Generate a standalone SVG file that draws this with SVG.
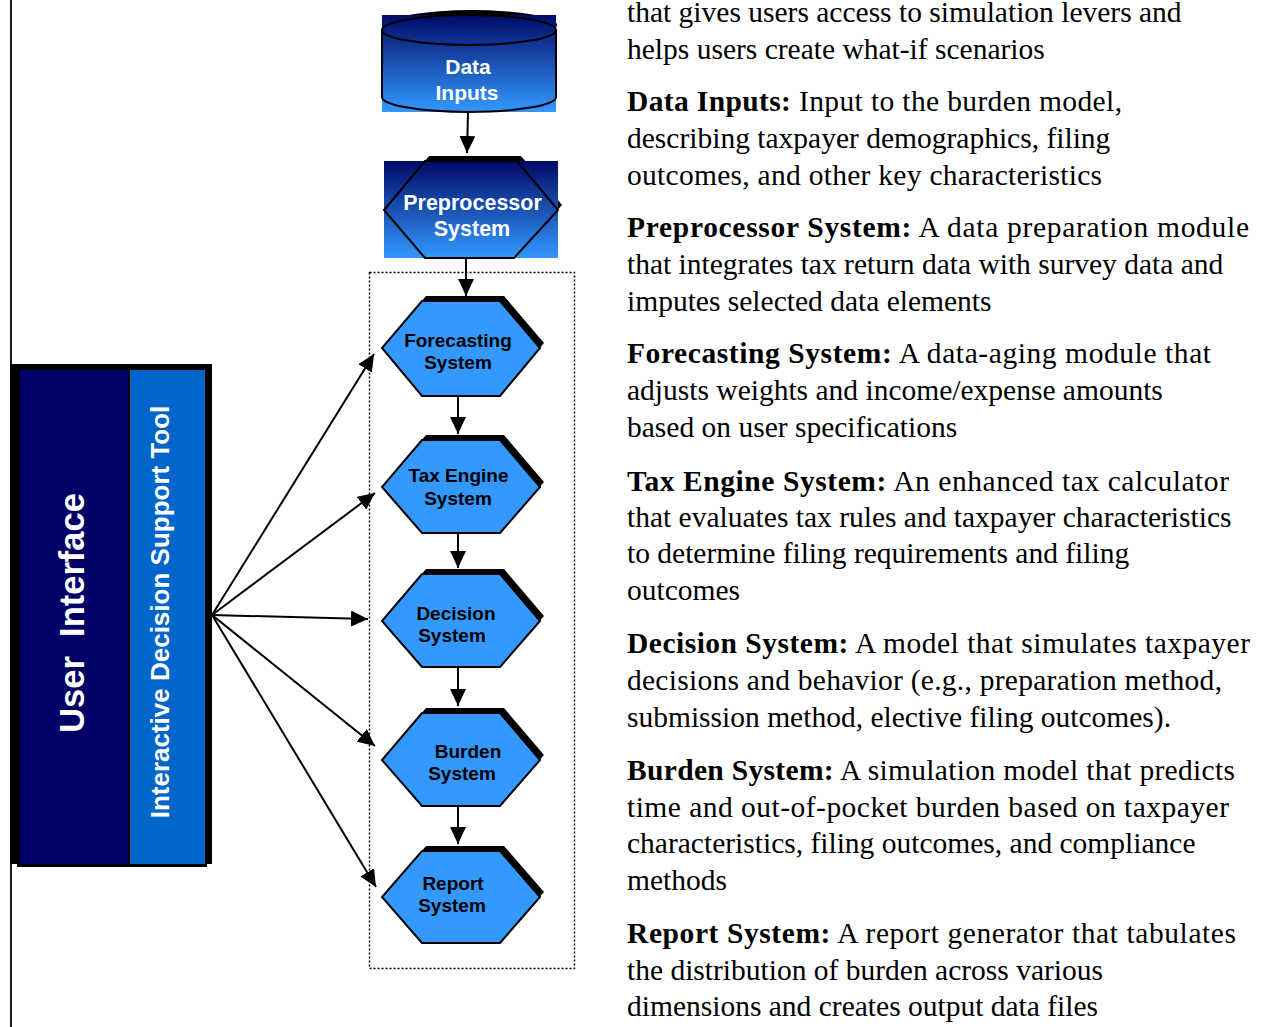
<svg xmlns="http://www.w3.org/2000/svg" width="1261" height="1027" viewBox="0 0 1261 1027">
<style>
.conn{stroke:#000;stroke-width:2;fill:none;marker-end:url(#ah)}
.hex{fill:#3399FF;stroke:#000;stroke-width:2}
.sh{fill:#000}
.lbl{font-family:"Liberation Sans",Arial,sans-serif;font-weight:bold;font-size:19px;fill:#000;text-anchor:middle}
.wlbl{font-family:"Liberation Sans",Arial,sans-serif;font-weight:bold;fill:#fff;text-anchor:middle}
.body{font-family:"Liberation Serif","Times New Roman",serif;font-size:29.5px;fill:#000}
.b{font-weight:bold}
</style>
<defs>
<marker id="ah" markerUnits="userSpaceOnUse" markerWidth="17" markerHeight="16" refX="17" refY="8" orient="auto">
<path d="M0,0 L17,8 L0,16 Z" fill="#000"/>
</marker>
<linearGradient id="gr" x1="0" y1="0" x2="0" y2="1">
<stop offset="0" stop-color="#000A66"/>
<stop offset="1" stop-color="#3399FF"/>
</linearGradient>
</defs>
<rect width="1261" height="1027" fill="#fff"/>
<line x1="11" y1="0" x2="11" y2="1027" stroke="#000" stroke-width="1.8"/>

<g id="user-interface">
<rect x="10" y="364" width="202" height="500" fill="#000"/>
<rect x="17" y="862" width="190" height="5" fill="#000"/>
<rect x="20" y="370" width="108" height="494" fill="#000066"/>
<rect x="130" y="370" width="75" height="494" fill="#0066CC"/>
<text class="wlbl" font-size="34.5" xml:space="preserve" transform="translate(84,613) rotate(-90)">User  Interface</text>
<text class="wlbl" font-size="26" transform="translate(169,612) rotate(-90)">Interactive Decision Support Tool</text>
</g>

<g id="data-inputs">
<ellipse cx="472" cy="25" rx="85" ry="15" fill="#000"/>
<rect x="382" y="15" width="174" height="97" fill="url(#gr)"/>
<path d="M382,30 A87,15 0 0 1 556,30 A87,15 0 0 1 382,30 Z M382,30 L382,97 A87,15 0 0 0 556,97 L556,30" fill="none" stroke="#000" stroke-width="2"/>
<text class="wlbl" font-size="21" x="468" y="74">Data</text>
<text class="wlbl" font-size="21" x="467" y="100">Inputs</text>
</g>

<g id="preprocessor">
<polygon class="sh" points="429,156 521,156 562,205 518,253 429,253 388,205"/>
<rect x="384" y="161" width="174" height="97" fill="url(#gr)"/>
<polygon points="425,161 517,161 558,210 514,258 425,258 384,210" fill="none" stroke="#000" stroke-width="2"/>
<text class="wlbl" font-size="21.5" x="472.5" y="210">Preprocessor</text>
<text class="wlbl" font-size="21.5" x="472" y="236">System</text>
</g>

<rect id="system-group" x="369.5" y="272.5" width="205" height="696" fill="none" stroke="#000" stroke-width="1.5" stroke-dasharray="2,2"/>

<g id="forecasting">
<polygon class="sh" points="426,296 504,296 544,343 504,390 426,390 386,343"/>
<polygon class="hex" points="422,301 500,301 540,348 500,396 422,396 382,348"/>
<text class="lbl" x="458" y="347">Forecasting</text>
<text class="lbl" x="458" y="369">System</text>
</g>

<g id="tax-engine">
<polygon class="sh" points="426,435 504,435 544,482 504,528 426,528 386,482"/>
<polygon class="hex" points="422,440 500,440 540,487 500,533 422,533 382,487"/>
<text class="lbl" x="458.5" y="482">Tax Engine</text>
<text class="lbl" x="458" y="505">System</text>
</g>

<g id="decision">
<polygon class="sh" points="426,569 504,569 544,616 504,662 426,662 386,616"/>
<polygon class="hex" points="422,574 500,574 540,621 500,667 422,667 382,621"/>
<text class="lbl" x="456" y="620">Decision</text>
<text class="lbl" x="452" y="642">System</text>
</g>

<g id="burden">
<polygon class="sh" points="426,708 504,708 544,755 504,801 426,801 386,755"/>
<polygon class="hex" points="422,713 500,713 540,760 500,806 422,806 382,760"/>
<text class="lbl" x="468" y="758">Burden</text>
<text class="lbl" x="462" y="780">System</text>
</g>

<g id="report">
<polygon class="sh" points="426,846 504,846 544,892 504,938 426,938 386,892"/>
<polygon class="hex" points="422,851 500,851 540,897 500,943 422,943 382,897"/>
<text class="lbl" x="453" y="890">Report</text>
<text class="lbl" x="452" y="912">System</text>
</g>

<g id="connectors">
<line class="conn" x1="468" y1="112" x2="467" y2="153"/>
<line class="conn" x1="466" y1="258" x2="466" y2="296"/>
<line class="conn" x1="458" y1="396" x2="458" y2="434"/>
<line class="conn" x1="458" y1="533" x2="458" y2="568"/>
<line class="conn" x1="458" y1="667" x2="458" y2="706"/>
<line class="conn" x1="458" y1="806" x2="458" y2="844"/>
<line class="conn" x1="212" y1="615" x2="374" y2="354"/>
<line class="conn" x1="212" y1="615" x2="375" y2="493"/>
<line class="conn" x1="212" y1="615" x2="368" y2="619"/>
<line class="conn" x1="212" y1="615" x2="375" y2="746"/>
<line class="conn" x1="212" y1="615" x2="376" y2="887"/>
</g>

<g id="descriptions" class="body">
<text x="627" y="22">that gives users access to simulation levers and</text>
<text x="627" y="59">helps users create what-if scenarios</text>
<text x="627" y="111" textLength="495"><tspan class="b">Data Inputs:</tspan> Input to the burden model,</text>
<text x="627" y="148">describing taxpayer demographics, filing</text>
<text x="627" y="185" textLength="475">outcomes, and other key characteristics</text>
<text x="627" y="237" textLength="622"><tspan class="b">Preprocessor System:</tspan> A data preparation module</text>
<text x="627" y="274">that integrates tax return data with survey data and</text>
<text x="627" y="311">imputes selected data elements</text>
<text x="627" y="363" textLength="584"><tspan class="b">Forecasting System:</tspan>  A data-aging module that</text>
<text x="627" y="400">adjusts weights and income/expense amounts</text>
<text x="627" y="437">based on user specifications</text>
<text x="627" y="491" textLength="602"><tspan class="b">Tax Engine System:</tspan> An enhanced tax calculator</text>
<text x="627" y="527">that evaluates tax rules and taxpayer characteristics</text>
<text x="627" y="563">to determine filing requirements and filing</text>
<text x="627" y="600">outcomes</text>
<text x="627" y="653" textLength="623"><tspan class="b">Decision System:</tspan> A model that simulates taxpayer</text>
<text x="627" y="690" textLength="595">decisions and behavior (e.g., preparation method,</text>
<text x="627" y="727">submission method, elective filing outcomes).</text>
<text x="627" y="780" textLength="608"><tspan class="b">Burden System:</tspan> A simulation model that predicts</text>
<text x="627" y="817" textLength="602">time and out-of-pocket burden based on taxpayer</text>
<text x="627" y="853">characteristics, filing outcomes, and compliance</text>
<text x="627" y="890">methods</text>
<text x="627" y="943" textLength="609"><tspan class="b">Report System:</tspan> A report generator that tabulates</text>
<text x="627" y="980">the distribution of burden across various</text>
<text x="627" y="1016">dimensions and creates output data files</text>
</g>
</svg>
